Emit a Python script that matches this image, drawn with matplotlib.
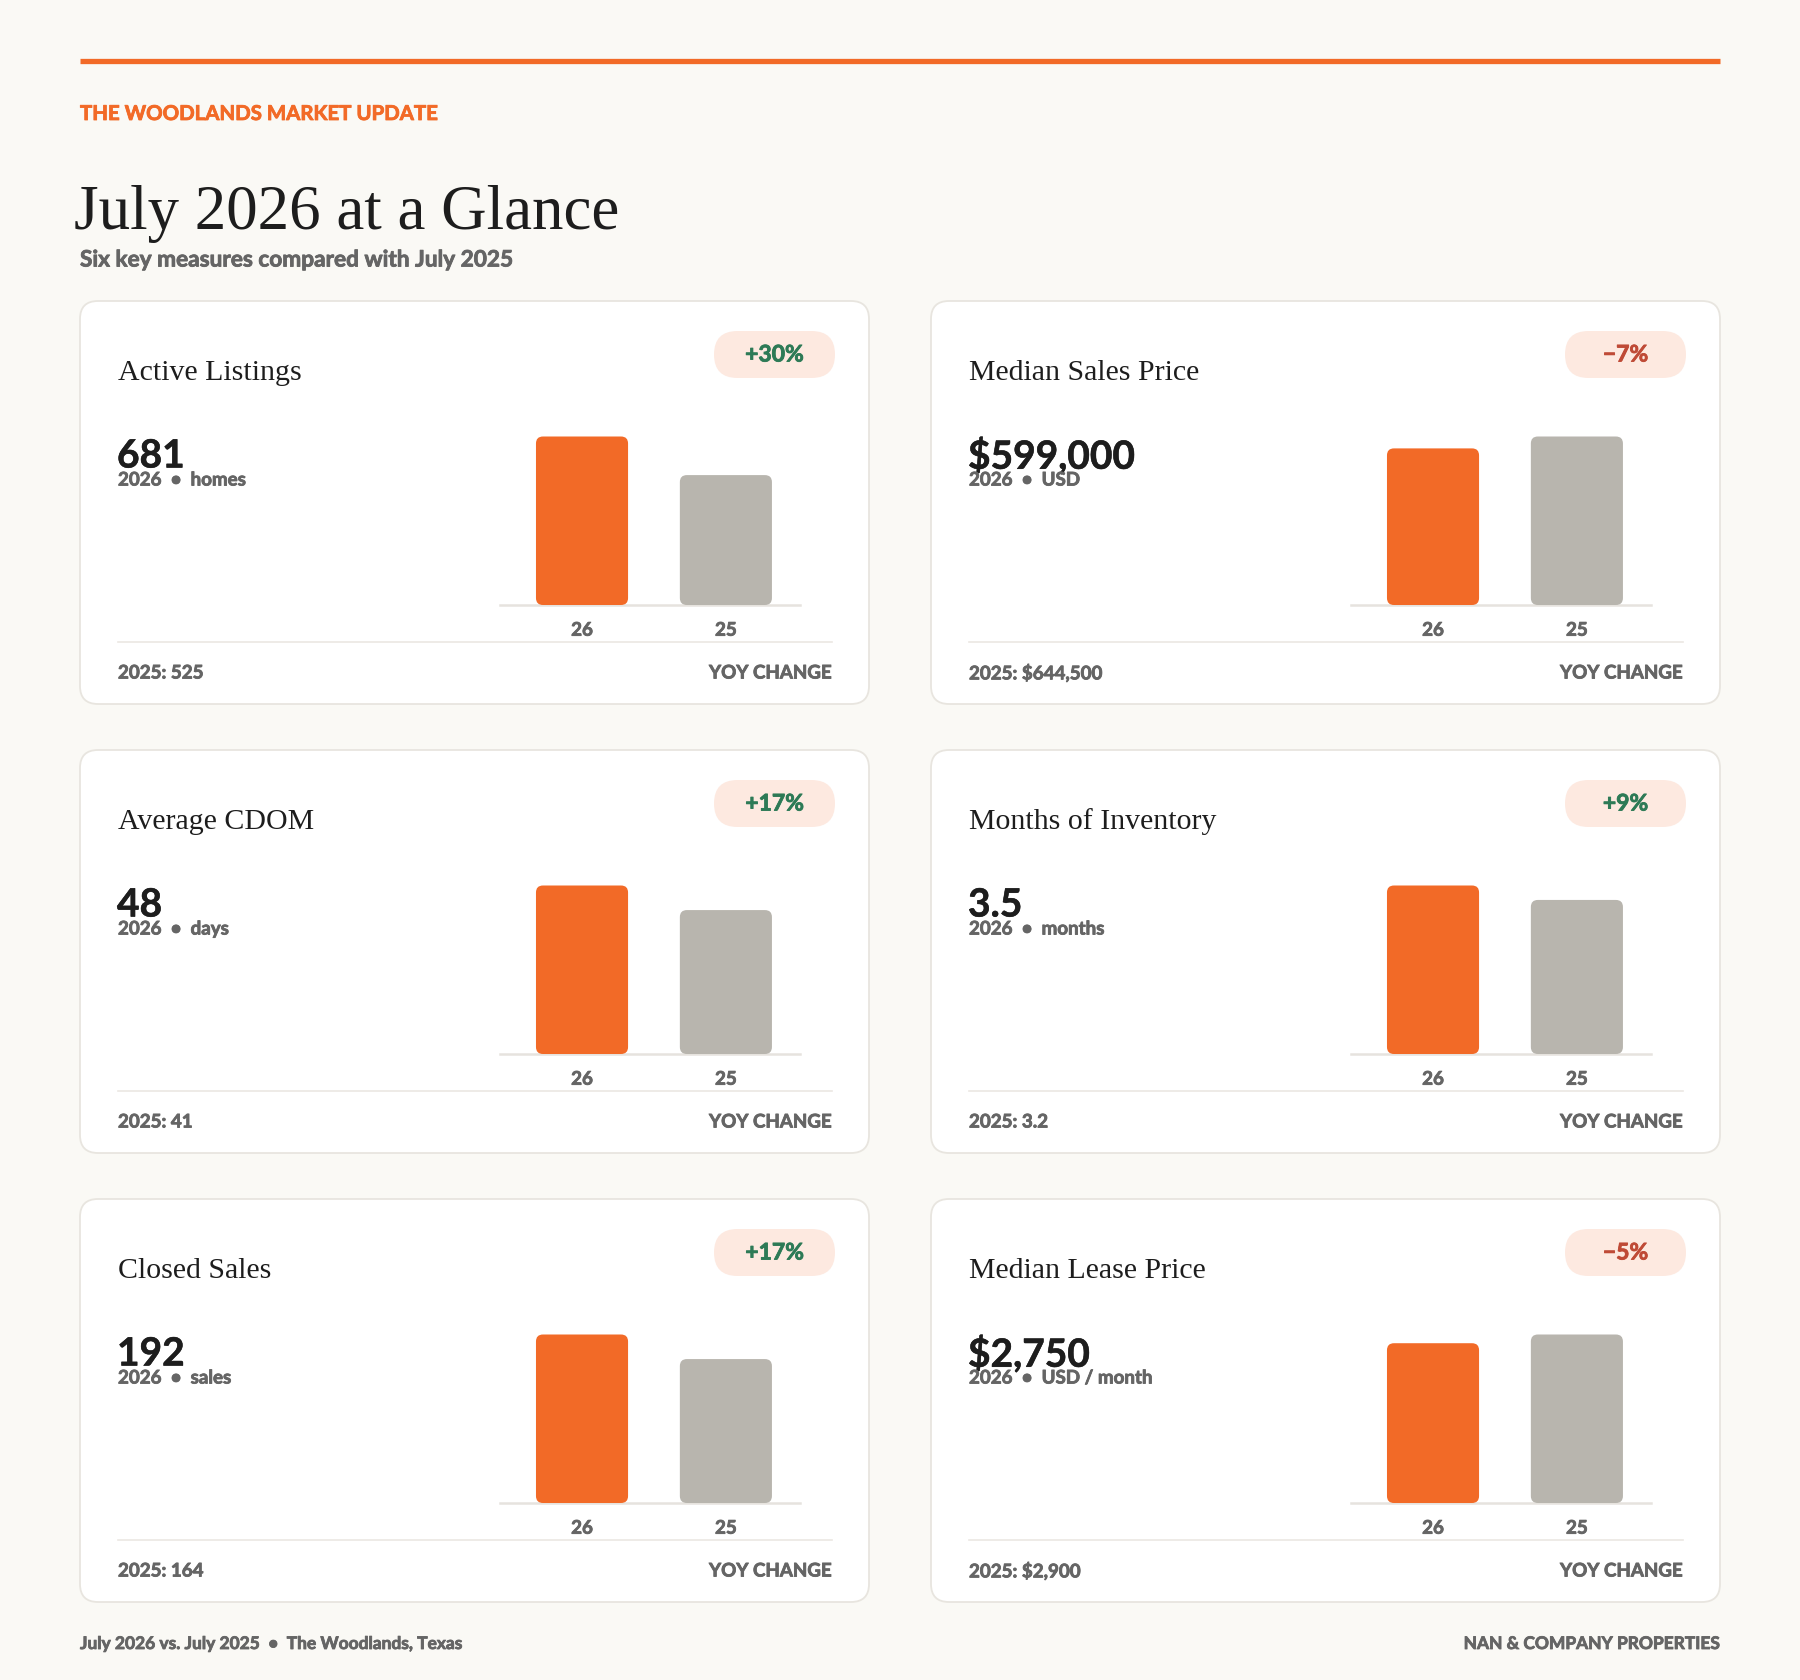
import matplotlib
matplotlib.use("Agg")
import matplotlib.pyplot as plt
import matplotlib.patheffects as pe
from matplotlib.patches import FancyBboxPatch

# --- data ---
metrics = ["Active Listings", "Median Sales Price", "Average CDOM",
           "Months of Inventory", "Closed Sales", "Median Lease Price"]
val_2026 = [681, 599000, 48, 3.5, 192, 2750]
val_2025 = [525, 644500, 41, 3.2, 164, 2900]
big_labels = ["681", "$599,000", "48", "3.5", "192", "$2,750"]
prior_labels = ["2025: 525", "2025: $644,500", "2025: 41", "2025: 3.2",
                "2025: 164", "2025: $2,900"]
units = ["homes", "USD", "days", "months", "sales", "USD / month"]
bar_labels = ["26", "25"]

# --- style ---
BG = "#faf9f5"
ORANGE = "#f26a27"
GREY_BAR = "#b8b5ae"
DARK = "#1d1d1d"
MUTED = "#656565"
BORDER = "#e8e5df"
BADGE = "#fde9e0"
GREEN = "#2d7a56"
RED = "#bf4a36"
SANS = ["Lato", "DejaVu Sans"]
SERIF = ["Liberation Serif", "DejaVu Serif"]
HEAVY = "bold"


def thick(color, lw=0.6):
    # Lato Bold reads lighter than the reference face; fatten the strokes a bit
    return [pe.withStroke(linewidth=lw, foreground=color)]


W, H = 1800, 1680
fig = plt.figure(figsize=(W / 100, H / 100), dpi=100, facecolor=BG)
ax = fig.add_axes([0, 0, 1, 1])
ax.set_xlim(0, W)
ax.set_ylim(H, 0)
ax.axis("off")

# header
ax.plot([80, 1720], [61, 61], color=ORANGE, lw=3.8, solid_capstyle="butt")
ax.text(80, 114, "THE WOODLANDS MARKET UPDATE", family=SANS, weight=HEAVY,
        fontsize=14.7, color=ORANGE, va="center", path_effects=thick(ORANGE))
ax.text(74, 229, "July 2026 at a Glance", family=SERIF, fontsize=45.3,
        color=DARK, va="baseline")
ax.text(80, 260, "Six key measures compared with July 2025", family=SANS,
        weight=HEAVY, fontsize=16.3, color=MUTED, va="center",
        path_effects=thick(MUTED))

card_w, card_h = 789, 403
col_x = [80, 931]
row_y = [301, 750, 1199]

for i, name in enumerate(metrics):
    cx = col_x[i % 2]
    cy = row_y[i // 2]
    card = FancyBboxPatch((cx, cy), card_w, card_h,
                          boxstyle="round,pad=0,rounding_size=18",
                          facecolor="white", edgecolor=BORDER, lw=1.3)
    ax.add_patch(card)

    ax.text(cx + 38, cy + 72, name, family=SERIF, fontsize=21.5, color=DARK,
            va="center")

    # yoy badge
    chg = (val_2026[i] / val_2025[i] - 1) * 100
    sign = "+" if chg >= 0 else "\u2212"
    badge = FancyBboxPatch((cx + 634, cy + 30), 121, 47,
                           boxstyle="round,pad=0,rounding_size=23.5",
                           facecolor=BADGE, edgecolor="none")
    ax.add_patch(badge)
    col = GREEN if chg >= 0 else RED
    ax.text(cx + 694.5, cy + 54, f"{sign}{abs(round(chg)):.0f}%", family=SANS,
            weight=HEAVY, fontsize=16.5, color=col, ha="center", va="center",
            path_effects=thick(col))

    ax.text(cx + 37, cy + 155, big_labels[i], family=SANS, weight=HEAVY,
            fontsize=28, color=DARK, va="center", path_effects=thick(DARK, 0.4))
    ax.text(cx + 38, cy + 179, f"2026  \u2022  {units[i]}", family=SANS,
            weight=HEAVY, fontsize=13.5, color=MUTED, va="center",
            path_effects=thick(MUTED))

    # divider + footer
    ax.plot([cx + 38, cx + 752], [cy + 341, cy + 341], color="#ebe8e3", lw=1.2)
    ax.text(cx + 38, cy + 372, prior_labels[i], family=SANS, weight=HEAVY,
            fontsize=13.5, color=MUTED, va="center", path_effects=thick(MUTED))
    ax.text(cx + 752, cy + 372, "YOY CHANGE", family=SANS, weight=HEAVY,
            fontsize=13.5, color=MUTED, va="center", ha="right",
            path_effects=thick(MUTED))

    # bar chart
    bx0, bx1 = cx + 420, cx + 720
    base_y = cy + 304
    bh = 168.5
    bax = fig.add_axes([bx0 / W, 1 - base_y / H, (bx1 - bx0) / W, bh / H])
    bax.set_facecolor("none")
    vals = [val_2026[i], val_2025[i]]
    vmax = max(vals)
    bars = bax.bar([0, 1], vals, width=0.64, color=[ORANGE, GREY_BAR])
    bax.set_xlim(-0.57, 1.515)
    bax.set_ylim(0, vmax)
    px_x = (bx1 - bx0) / 2.085
    asp = (vmax / bh) * px_x
    for rect in bars:
        x, y = rect.get_x(), rect.get_y()
        w, h = rect.get_width(), rect.get_height()
        rnd = FancyBboxPatch((x, y), w, h,
                             boxstyle=f"round,pad=0,rounding_size={7 / px_x}",
                             mutation_aspect=asp, facecolor=rect.get_facecolor(),
                             edgecolor="none", clip_on=False, zorder=2)
        rect.remove()
        bax.add_patch(rnd)
    bax.axhline(0, color="#e6e3de", lw=1.8, zorder=1, clip_on=False)
    for s in bax.spines.values():
        s.set_visible(False)
    bax.set_yticks([])
    bax.set_xticks([0, 1])
    bax.set_xticklabels(bar_labels, family=SANS, weight=HEAVY, fontsize=13.5,
                        color=MUTED)
    for t in bax.get_xticklabels():
        t.set_path_effects(thick(MUTED))
    bax.tick_params(axis="x", length=0, pad=12)

# footer
ax.text(80, 1644, "July 2026 vs. July 2025  \u2022  The Woodlands, Texas",
        family=SANS, weight=HEAVY, fontsize=12.5, color=MUTED, va="center",
        path_effects=thick(MUTED))
ax.text(1720, 1644, "NAN & COMPANY PROPERTIES", family=SANS, weight=HEAVY,
        fontsize=12.5, color=MUTED, va="center", ha="right",
        path_effects=thick(MUTED))

fig.savefig("out.png", dpi=100, facecolor=BG)
